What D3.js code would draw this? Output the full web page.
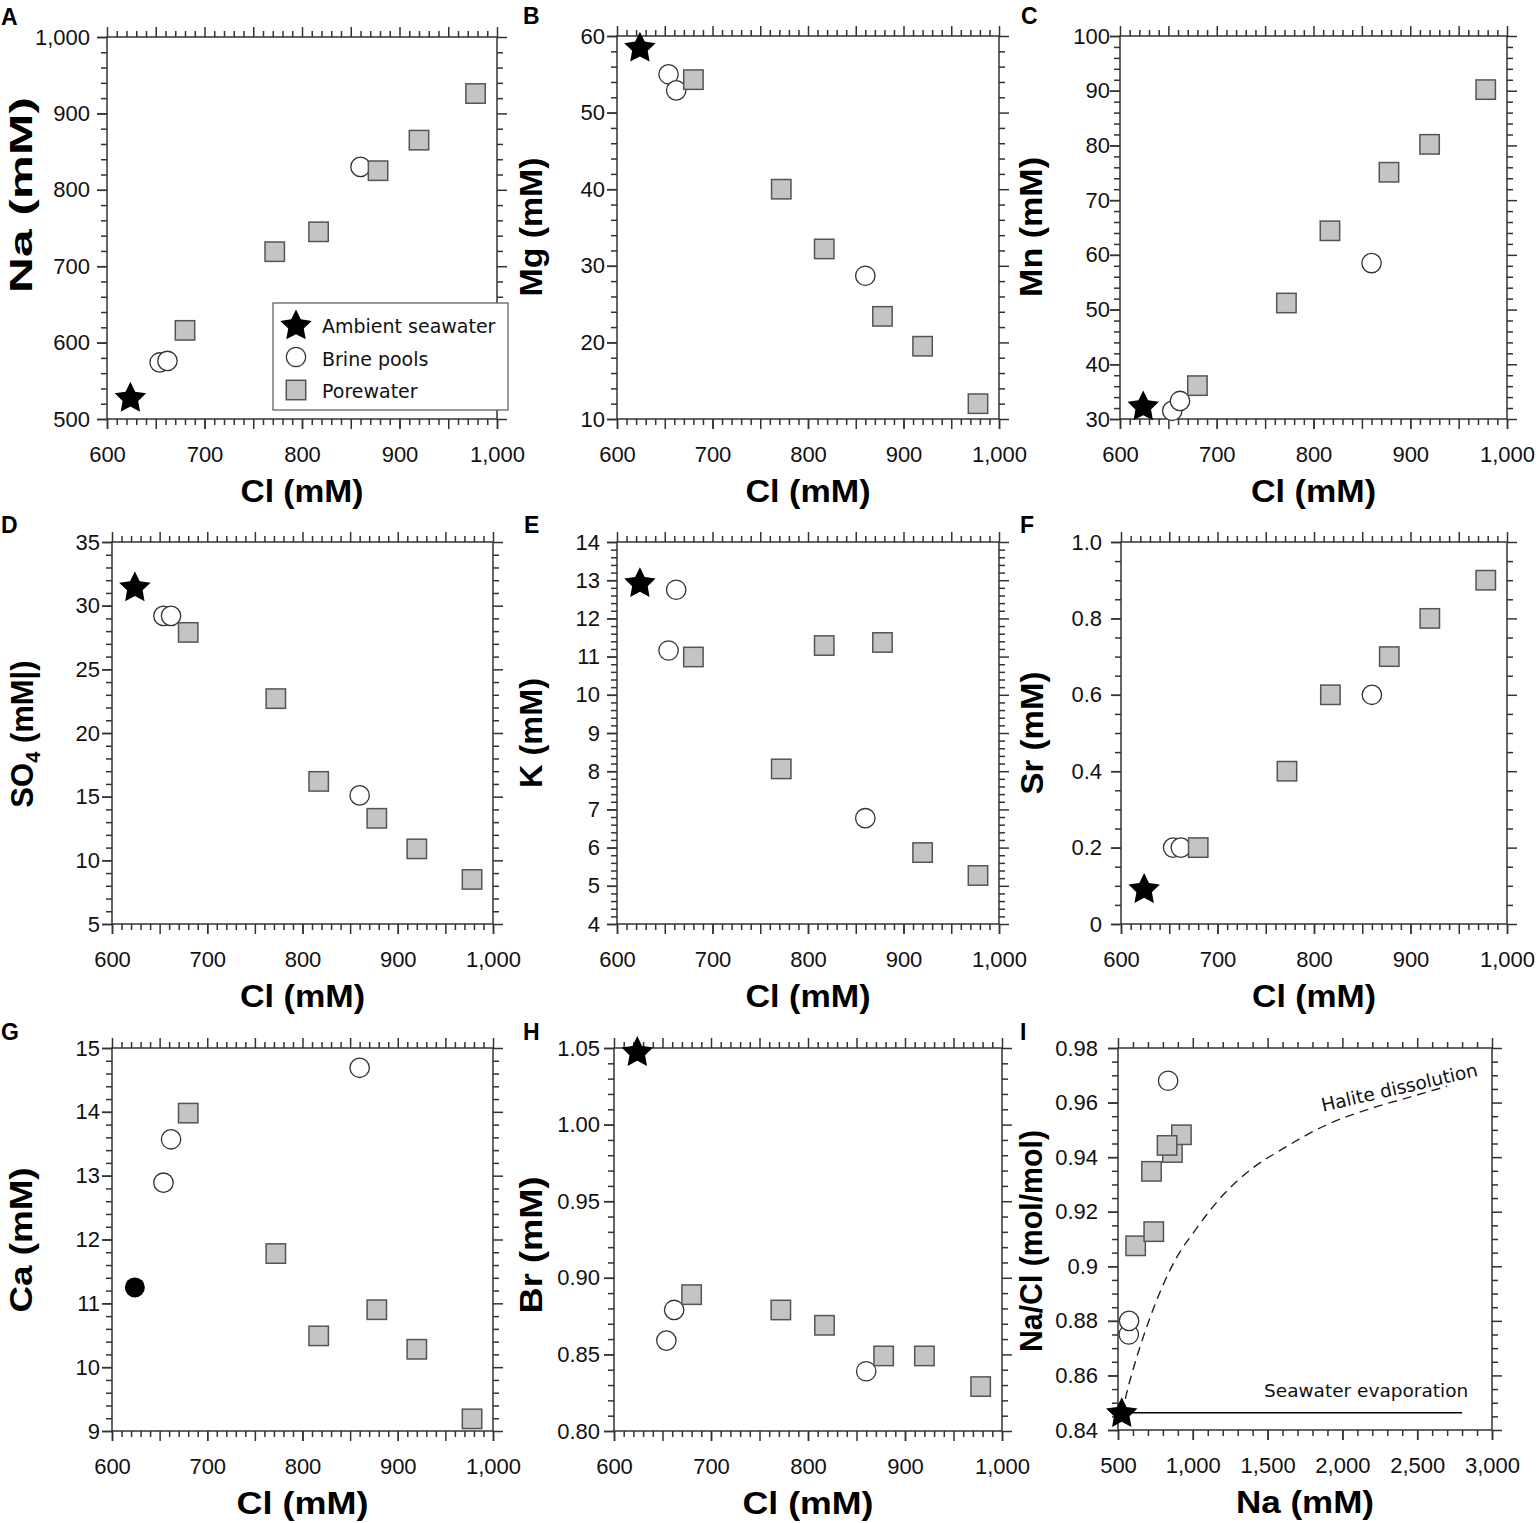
<!DOCTYPE html>
<html>
<head>
<meta charset="utf-8">
<script src="https://cdn.jsdelivr.net/npm/d3@7"></script>
<style>
body { margin: 0; background: #fff; }
svg { display: block; }
</style>
</head>
<body>
<script>
// chloride of the samples (mM), shared x values of panels A-H
var seaCl = 624;
var brineCl = [654, 662, 860];
var poreCl = [680, 772, 817, 878, 920, 978];

// panel values: ambient seawater, brine pools, porewater
var naSea = 527, naBrine = [574, 576, 830], naPore = [616, 719, 745, 825, 865, 926];
var mgSea = 58.4, mgBrine = [55.0, 52.9, 28.7], mgPore = [54.3, 40.0, 32.2, 23.4, 19.5, 12.0];
var mnSea = 32.2, mnBrine = [31.5, 33.3, 58.5], mnPore = [36.1, 51.2, 64.4, 75.1, 80.2, 90.2];
var so4Sea = 31.4, so4Brine = [29.2, 29.2, 15.1], so4Pore = [27.9, 22.7, 16.2, 13.3, 10.9, 8.5];
var kSea = 12.91, kBrine = [11.16, 12.75, 6.77], kPore = [10.99, 8.06, 11.29, 11.37, 5.87, 5.27];
var srSea = 0.09, srBrine = [0.2, 0.2, 0.6], srPore = [0.2, 0.4, 0.6, 0.7, 0.8, 0.9];
var caSea = 11.25, caBrine = [12.89, 13.57, 14.69], caPore = [13.98, 11.78, 10.49, 10.9, 10.28, 9.19];
var brSea = 1.047, brBrine = [0.859, 0.879, 0.839], brPore = [0.889, 0.879, 0.869, 0.849, 0.849, 0.829];

// panel I: Na vs Na/Cl
var seaNa = 525, seaRatio = 0.846;
var brineNa = [572, 574, 835], brineRatio = [0.875, 0.880, 0.968];
var poreNa = [618, 739, 724, 864, 924, 828], poreRatio = [0.9075, 0.9127, 0.9348, 0.9417, 0.9482, 0.9443];
var haliteNa = [528, 560, 600, 650, 700, 800, 900, 1000, 1200, 1400, 1600, 1900, 2200, 2450, 2700];
var haliteRatio = [0.846, 0.854, 0.862, 0.871, 0.879, 0.893, 0.904, 0.912, 0.926, 0.936, 0.943, 0.952, 0.958, 0.962, 0.966];
var evapNa = [525, 2800], evapRatio = [0.8463, 0.8463];

// tick labels
var clTicks = [600, 700, 800, 900, 1000];
var naTicks = [500, 600, 700, 800, 900, 1000];
var mgTicks = [10, 20, 30, 40, 50, 60];
var mnTicks = [30, 40, 50, 60, 70, 80, 90, 100];
var so4Ticks = [5, 10, 15, 20, 25, 30, 35];
var kTicks = [4, 5, 6, 7, 8, 9, 10, 11, 12, 13, 14];
var srTicks = [0, 0.2, 0.4, 0.6, 0.8, 1.0];
var caTicks = [9, 10, 11, 12, 13, 14, 15];
var brTicks = [0.80, 0.85, 0.90, 0.95, 1.00, 1.05];
var ratioTicks = [0.84, 0.86, 0.88, 0.90, 0.92, 0.94, 0.96, 0.98];
var naWideTicks = [500, 1000, 1500, 2000, 2500, 3000];

var legendNames = ["Ambient seawater", "Brine pools", "Porewater"];

var FONT = "'Liberation Sans', Arial, Helvetica, sans-serif";
var FONT2 = "'DejaVu Sans', Verdana, sans-serif";
var INK = "#333";

var comma = d3.format(",");
var plain = d3.format("");
var srFmt = function (d) { return d === 0 ? "0" : d3.format(".1f")(d); };
var brFmt = d3.format(".2f");
var ratioFmt = function (d) { return String(+d.toFixed(2)); };

var svg = d3.select("body").append("svg")
    .attr("width", 1540)
    .attr("height", 1523);

var clAxis = { ticks: clTicks, major: 50, minor: 10, fmt: comma };

var panels = [
    { label: "A", lx: 1, ly: 25, box: [107, 37, 497, 419], xa: clAxis,
      ya: { ticks: naTicks, major: 100, minor: 20, fmt: comma }, gap: 17,
      title: "Na (mM)", tx: 32, ty: 195, tlen: 196, xlen: 123,
      sea: naSea, brine: naBrine, pore: naPore, legend: true },
    { label: "B", lx: 523, ly: 24, box: [617, 36, 999, 419], xa: clAxis,
      ya: { ticks: mgTicks, major: 10, minor: 2, fmt: plain }, gap: 12,
      title: "Mg (mM)", tx: 542, ty: 227, tlen: 139, xlen: 125,
      sea: mgSea, brine: mgBrine, pore: mgPore },
    { label: "C", lx: 1021, ly: 24, box: [1120, 36, 1507, 419], xa: clAxis,
      ya: { ticks: mnTicks, major: 10, minor: 2, fmt: plain }, gap: 10,
      title: "Mn (mM)", tx: 1042, ty: 227, tlen: 140, xlen: 125,
      sea: mnSea, brine: mnBrine, pore: mnPore },
    { label: "D", lx: 1, ly: 533, box: [112, 542, 493, 924], xa: clAxis,
      ya: { ticks: so4Ticks, major: 5, minor: 1, fmt: plain }, gap: 12,
      title: "SO4", tx: 33, ty: 734, tlen: null, xlen: 125,
      sea: so4Sea, brine: so4Brine, pore: so4Pore },
    { label: "E", lx: 524, ly: 533, box: [617, 542, 999, 924], xa: clAxis,
      ya: { ticks: kTicks, major: 1, minor: 0.2, fmt: plain }, gap: 17,
      title: "K (mM)", tx: 542, ty: 733, tlen: 110, xlen: 125,
      sea: kSea, brine: kBrine, pore: kPore },
    { label: "F", lx: 1020, ly: 533, box: [1121, 542, 1507, 924], xa: clAxis,
      ya: { ticks: srTicks, major: 0.2, minor: 0.05, fmt: srFmt }, gap: 19,
      title: "Sr (mM)", tx: 1043, ty: 733, tlen: 123, xlen: 124,
      sea: srSea, brine: srBrine, pore: srPore },
    { label: "G", lx: 1, ly: 1040, box: [112, 1048, 493, 1431], xa: clAxis,
      ya: { ticks: caTicks, major: 1, minor: 0.2, fmt: plain }, gap: 12,
      title: "Ca (mM)", tx: 32, ty: 1240, tlen: 145, xlen: 132,
      sea: caSea, brine: caBrine, pore: caPore, dot: true },
    { label: "H", lx: 523, ly: 1040, box: [614, 1048, 1002, 1431], xa: clAxis,
      ya: { ticks: brTicks, major: 0.05, minor: 0.01, fmt: brFmt }, gap: 14,
      title: "Br (mM)", tx: 542, ty: 1245, tlen: 137, xlen: 131,
      sea: brSea, brine: brBrine, pore: brPore },
    { label: "I", lx: 1020, ly: 1040, box: [1118, 1048, 1492, 1430],
      xa: { ticks: naWideTicks, major: 500, minor: 100, fmt: comma },
      ya: { ticks: ratioTicks, major: 0.02, minor: 0.005, fmt: ratioFmt }, gap: 20,
      title: "Na/Cl (mol/mol)", tx: 1042, ty: 1241, tlen: 222, xlen: 138, xtitle: "Na (mM)",
      seaX: seaNa, brineX: brineNa, poreX: poreNa,
      sea: seaRatio, brine: brineRatio, pore: poreRatio, ratio: true }
];

function steps(lo, hi, step) {
    return d3.range(0, Math.round((hi - lo) / step) + 1).map(function (i) {
        return +(lo + i * step).toFixed(6);
    });
}

function onStep(v, step) {
    var q = v / step;
    return Math.abs(q - Math.round(q)) < 1e-6;
}

function starPath(R, r) {
    var pts = [];
    for (var i = 0; i < 10; i++) {
        var a = -Math.PI / 2 + i * Math.PI / 5;
        var rad = i % 2 ? r : R;
        pts.push([rad * Math.cos(a), rad * Math.sin(a)]);
    }
    return "M" + pts.join("L") + "Z";
}
var STAR = starPath(16.5, 8.2);

function sideAxis(g, scale, orient, pos, spec, pad, labelled) {
    var lo = spec.ticks[0], hi = spec.ticks[spec.ticks.length - 1];
    var majors = steps(lo, hi, spec.major);
    var minors = steps(lo, hi, spec.minor).filter(function (v) { return !onStep(v - lo, spec.major); });
    var make = { bottom: d3.axisBottom, top: d3.axisTop, left: d3.axisLeft, right: d3.axisRight }[orient];
    var tr = (orient == "bottom" || orient == "top") ? "translate(0," + pos + ")" : "translate(" + pos + ",0)";
    var layer = g.append("g").attr("transform", tr);

    layer.append("g").call(make(scale).tickValues(minors).tickSize(6).tickSizeOuter(0).tickFormat(""));
    layer.append("g").call(make(scale).tickValues(majors).tickSize(10).tickSizeOuter(0).tickFormat(""));
    if (labelled) {
        layer.append("g").call(make(scale).tickValues(spec.ticks).tickSize(10)
            .tickSizeOuter(0).tickPadding(pad).tickFormat(spec.fmt));
    }
    layer.selectAll(".domain").remove();
    layer.selectAll("line").attr("stroke", INK).attr("stroke-width", 1.5);
    layer.selectAll("text")
        .attr("font-family", FONT)
        .attr("font-size", 22)
        .attr("fill", "#111");
}

panels.forEach(function (p) {
    var b = p.box;
    var xt = p.xa.ticks, yt = p.ya.ticks;
    var x = d3.scaleLinear().domain([xt[0], xt[xt.length - 1]]).range([b[0], b[2]]);
    var y = d3.scaleLinear().domain([yt[0], yt[yt.length - 1]]).range([b[3], b[1]]);
    var g = svg.append("g");

    sideAxis(g, x, "bottom", b[3], p.xa, 17, true);
    sideAxis(g, x, "top", b[1], p.xa, 0, false);
    sideAxis(g, y, "left", b[0], p.ya, p.gap - 10, true);
    sideAxis(g, y, "right", b[2], p.ya, 0, false);

    g.append("rect")
        .attr("x", b[0]).attr("y", b[1])
        .attr("width", b[2] - b[0]).attr("height", b[3] - b[1])
        .attr("fill", "none")
        .attr("stroke", INK)
        .attr("stroke-width", 1.5);

    // panel letter
    g.append("text")
        .text(p.label)
        .attr("x", p.lx).attr("y", p.ly)
        .attr("font-family", FONT)
        .attr("font-weight", "bold")
        .attr("font-size", 23)
        .attr("fill", "#000");

    // x title
    g.append("text")
        .text(p.xtitle || "Cl (mM)")
        .attr("x", (b[0] + b[2]) / 2)
        .attr("y", b[3] + 83)
        .attr("text-anchor", "middle")
        .attr("font-family", FONT)
        .attr("font-weight", "bold")
        .attr("font-size", 31)
        .attr("textLength", p.xlen)
        .attr("lengthAdjust", "spacingAndGlyphs")
        .attr("fill", "#000");

    // y title
    var yt2 = g.append("text")
        .attr("transform", "translate(" + p.tx + "," + p.ty + ") rotate(-90)")
        .attr("text-anchor", "middle")
        .attr("font-family", FONT)
        .attr("font-weight", "bold")
        .attr("font-size", 31)
        .attr("fill", "#000");
    if (p.title == "SO4") {
        yt2.append("tspan").text("SO");
        yt2.append("tspan").text("4").attr("font-size", 20).attr("dy", 7);
        yt2.append("tspan").text(" (mM|)").attr("dy", -7);
    } else {
        yt2.text(p.title)
            .attr("textLength", p.tlen)
            .attr("lengthAdjust", "spacingAndGlyphs");
    }

    var bx = p.brineX || brineCl, px = p.poreX || poreCl, sx = p.seaX || seaCl;

    if (p.ratio) {
        var curve = d3.line()
            .x(function (d) { return x(d[0]); })
            .y(function (d) { return y(d[1]); })
            .curve(d3.curveMonotoneX);
        g.append("path")
            .datum(d3.zip(haliteNa, haliteRatio))
            .attr("d", curve)
            .attr("fill", "none")
            .attr("stroke", "#222")
            .attr("stroke-width", 1.4)
            .attr("stroke-dasharray", "9,6");
        g.append("path")
            .datum(d3.zip(evapNa, evapRatio))
            .attr("d", d3.line().x(function (d) { return x(d[0]); }).y(function (d) { return y(d[1]); }))
            .attr("fill", "none")
            .attr("stroke", "#000")
            .attr("stroke-width", 1.6);
        g.append("text")
            .text("Halite dissolution")
            .attr("transform", "translate(" + x(1870) + "," + y(0.9566) + ") rotate(-13)")
            .attr("font-family", FONT2)
            .attr("font-size", 18.5)
            .attr("fill", "#111");
        g.append("text")
            .text("Seawater evaporation")
            .attr("x", x(2841)).attr("y", y(0.8521))
            .attr("text-anchor", "end")
            .attr("font-family", FONT2)
            .attr("font-size", 18.5)
            .attr("fill", "#111");
    }

    // brine pools
    g.selectAll(null)
        .data(d3.zip(bx, p.brine))
        .join("circle")
        .attr("cx", function (d) { return x(d[0]); })
        .attr("cy", function (d) { return y(d[1]); })
        .attr("r", 9.7)
        .attr("fill", "#fff")
        .attr("stroke", "#333")
        .attr("stroke-width", 1.3);

    // porewater
    g.selectAll(null)
        .data(d3.zip(px, p.pore))
        .join("rect")
        .attr("x", function (d) { return x(d[0]) - 9.7; })
        .attr("y", function (d) { return y(d[1]) - 9.7; })
        .attr("width", 19.4)
        .attr("height", 19.4)
        .attr("fill", "#c4c4c4")
        .attr("stroke", "#555")
        .attr("stroke-width", 1.5);

    // ambient seawater
    if (p.dot) {
        g.append("circle")
            .attr("cx", x(sx)).attr("cy", y(p.sea))
            .attr("r", 10)
            .attr("fill", "#000");
    } else {
        g.append("path")
            .attr("d", STAR)
            .attr("transform", "translate(" + x(sx) + "," + y(p.sea) + ")")
            .attr("fill", "#000");
    }

    if (p.legend) {
        var lg = g.append("g").attr("transform", "translate(273,303)");
        lg.append("rect")
            .attr("width", 235).attr("height", 107)
            .attr("fill", "#fff")
            .attr("stroke", "#555")
            .attr("stroke-width", 1.2);
        lg.append("path").attr("d", STAR).attr("transform", "translate(23,23)").attr("fill", "#000");
        lg.append("circle").attr("cx", 23).attr("cy", 54).attr("r", 9.7)
            .attr("fill", "#fff").attr("stroke", "#333").attr("stroke-width", 1.3);
        lg.append("rect").attr("x", 13.3).attr("y", 77.3).attr("width", 19.4).attr("height", 19.4)
            .attr("fill", "#c4c4c4").attr("stroke", "#555").attr("stroke-width", 1.5);
        lg.selectAll("text.leg")
            .data(legendNames)
            .join("text")
            .attr("class", "leg")
            .text(function (d) { return d; })
            .attr("x", 49)
            .attr("y", function (d, i) { return 30 + i * 32.5; })
            .attr("font-family", FONT2)
            .attr("font-size", 19)
            .attr("fill", "#111");
    }
});
</script>
</body>
</html>
